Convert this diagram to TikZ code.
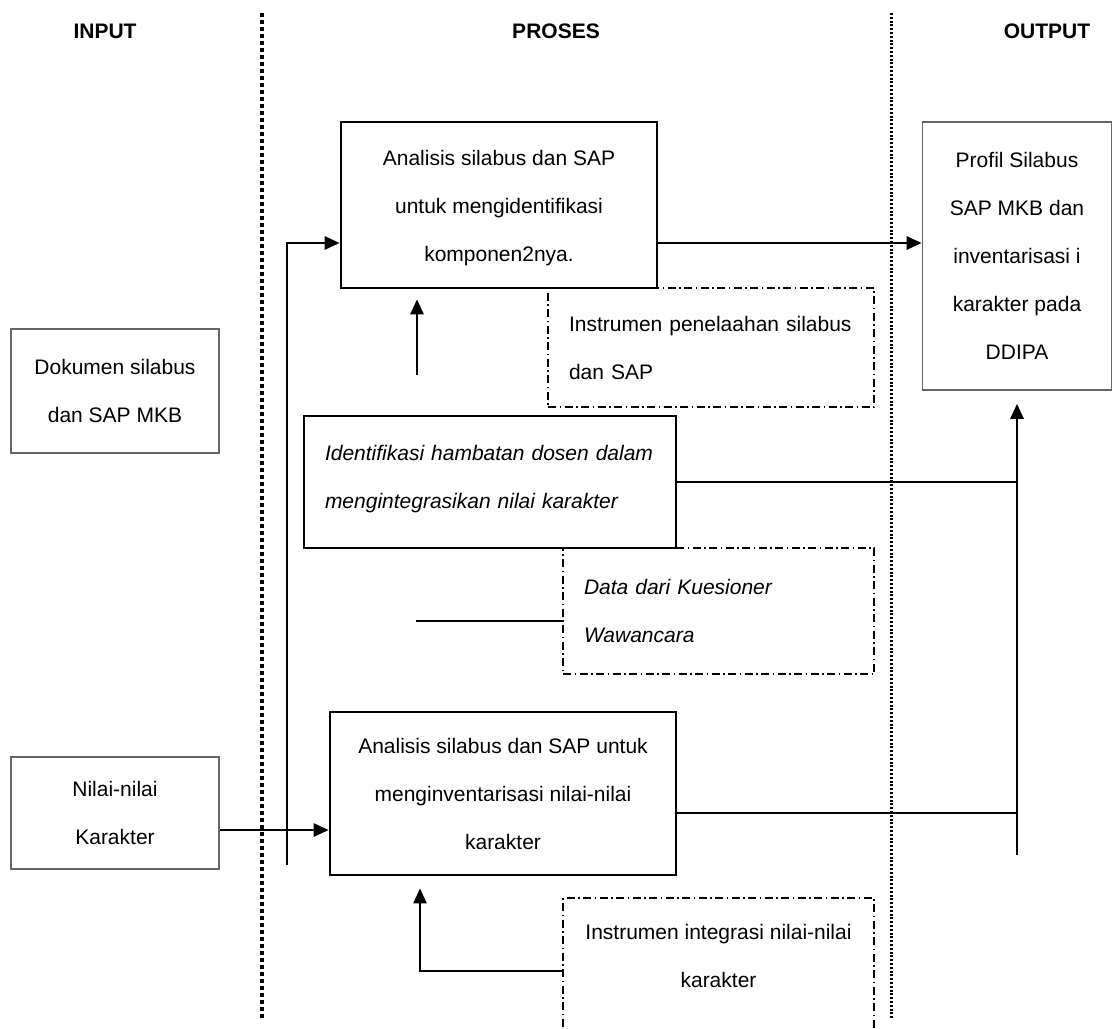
\documentclass[tikz,border=0pt]{standalone}
\usepackage{fontspec}
\setmainfont{Liberation Sans}
\usetikzlibrary{arrows.meta}

\begin{document}
\begin{tikzpicture}[x=1pt, y=-1pt,
    txt/.style={font=\fontsize{21}{48}\selectfont},
    slanted/.style={font=\fontsize{21}{48}\selectfont\itshape},
    head/.style={font=\fontsize{21}{24}\selectfont\bfseries},
    process/.style={draw, line width=2.6pt, inner sep=0pt, align=center},
    source/.style={draw=black!60, line width=1.6pt, inner sep=0pt, align=center},
    support/.style={draw, line width=2.2pt, inner sep=0pt,
        dash pattern=on 8pt off 3.5pt on 1.5pt off 3.5pt},
    flow/.style={line width=2.6pt, -{Triangle[length=15pt,width=13pt]}},
    link/.style={line width=2.2pt}]
   \useasboundingbox (0,0) rectangle (1113,1028);
   % judul kolom
   \node[head] (in)  at (105,31)  {INPUT};
   \node[head] (pro) at (556,31)  {PROSES};
   \node[head] (out) at (1047,31) {OUTPUT};
   \draw[line width=4pt, dash pattern=on 3.5pt off 3.5pt] (262,13) -- (262,1018);
   \draw[line width=3pt, dash pattern=on 2pt off 1.8pt] (891,13) -- (891,1018);
   % kotak
   \node[support, txt, align=left, inner xsep=21pt, text width=284pt, minimum height=119pt] (telaah) at (711,347.5)
      {Instrumen penelaahan silabus\\dan SAP};
   \node[support, slanted, align=left, inner xsep=21pt, text width=269pt, minimum height=126pt] (data) at (718.5,611)
      {Data dari Kuesioner\\Wawancara};
   \node[support, txt, align=center, minimum width=311pt, minimum height=132pt, text depth=16.5pt] (integ) at (718.5,964)
      {Instrumen integrasi nilai-nilai\\karakter};
   \node[process, txt, minimum width=316pt, minimum height=166pt, text height=118pt] (sil) at (499,205)
      {Analisis silabus dan SAP\\untuk mengidentifikasi\\komponen2nya.};
   \node[source, txt, minimum width=189pt, minimum height=268pt] (prof) at (1017,256)
      {Profil Silabus\\SAP MKB dan\\inventarisasi i\\karakter pada\\DDIPA};
   \node[source, txt, minimum width=208pt, minimum height=124pt] (dok) at (115,391)
      {Dokumen silabus\\dan SAP MKB};
   \node[source, txt, minimum width=208pt, minimum height=112pt] (nil) at (115,813)
      {Nilai-nilai\\Karakter};
   \node[process, slanted, align=left, inner xsep=21pt, text width=330pt, minimum height=132pt, text depth=58pt] (hamb) at (490,482)
      {Identifikasi hambatan dosen dalam\\mengintegrasikan nilai karakter};
   \node[process, txt, minimum width=346pt, minimum height=163pt] (inv) at (503,793.5)
      {Analisis silabus dan SAP untuk\\menginventarisasi nilai-nilai\\karakter};
   % alur
   \coordinate (feed) at (287,865);
   \coordinate (tickA) at (417,375);
   \coordinate (tickB) at (416,621);
   \coordinate (collect) at (1017,855);
   \draw[flow] ([yshift=-17pt]nil.east) -- ([yshift=-17pt]nil.east -| inv.west);
   \draw[flow] (feed) |- ([yshift=-38pt]sil.west);
   \draw[flow] ([yshift=-38pt]sil.east) -- ([yshift=-38pt]sil.east -| prof.west);
   \draw[flow, shorten >=10pt] (tickA) -- (tickA |- sil.south);
   \draw[flow, shorten >=13pt] (collect) -- (collect |- prof.south);
   \draw[link] (hamb.east) -- (hamb.east -| collect);
   \draw[link, line width=2pt] ([yshift=-19.5pt]inv.east) -- ([yshift=-19.5pt]inv.east -| collect);
   \draw[link] (tickB) -- (tickB -| data.west);
   \draw[flow, shorten >=12pt] ([yshift=-7pt]integ.west) -| ([xshift=-83pt]inv.south);
\end{tikzpicture}
\end{document}
